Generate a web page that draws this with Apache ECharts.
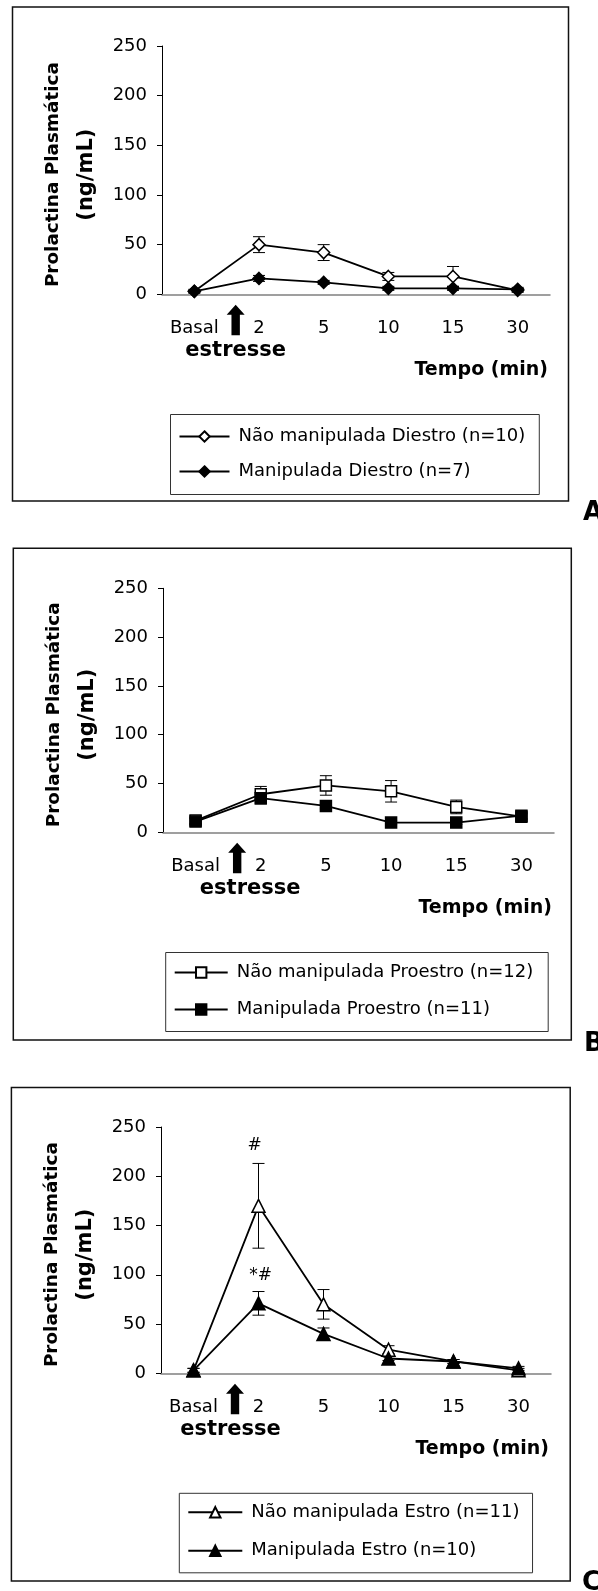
<!DOCTYPE html>
<html>
<head>
<meta charset="utf-8">
<title>Prolactina plasmática</title>
<script src="https://cdn.jsdelivr.net/npm/echarts@6/dist/echarts.min.js"></script>
<style>
  html, body { margin: 0; padding: 0; background: #fff; }
  #chart { width: 598px; height: 1591px; }
</style>
</head>
<body>
<div id="chart"></div>
<script>
// Tempo após o estresse (min)
const categories = ['Basal', '2', '5', '10', '15', '30'];

// A – Diestro (média e EPM, ng/mL)
const diestroNaoMean = [3, 50, 42, 18, 18, 4];
const diestroNaoSem  = [2, 8, 8, 4, 10, 2];
const diestroManMean = [3, 16, 12, 6, 6, 5];
const diestroManSem  = [1, 3, 2, 2, 2, 2];

// B – Proestro
const proestroNaoMean = [12, 39, 48, 42, 26, 16];
const proestroNaoSem  = [3, 8, 10, 11, 7, 3];
const proestroManMean = [11, 35, 27, 10, 10, 17];
const proestroManSem  = [3, 6, 3, 2, 2, 3];

// C – Estro
const estroNaoMean = [3, 170, 70, 24, 12, 3];
const estroNaoSem  = [2, 43, 15, 4, 2, 2];
const estroManMean = [3, 71, 40, 15, 12, 5];
const estroManSem  = [2, 12, 6, 2, 2, 2];

// Marcas de significância sobre os pontos
const estroNaoMarks = ['', '#', '', '', '', ''];
const estroManMarks = ['', '*#', '', '', '', ''];

// Eixo Y
const yMin = 0, yMax = 250, yStep = 50;

const FONT = '"DejaVu Sans", sans-serif';

const panels = [
  {
    letter: 'A',
    grid: { left: 162, top: 46, width: 388, height: 248.3 },
    box: { x: 12.5, y: 7, width: 556, height: 494 },
    letterPos: [583, 500],
    estresseDx: 9,
    legend: { left: 170.5, top: 414.5, itemWidth: 50, itemGap: 15, padding: [12, 14, 13, 8] },
    series: [
      { name: 'Não manipulada Diestro (n=10)', mean: diestroNaoMean, sem: diestroNaoSem, symbol: 'diamond', size: 12, open: true },
      { name: 'Manipulada Diestro (n=7)', mean: diestroManMean, sem: diestroManSem, symbol: 'diamond', size: 12, open: false }
    ]
  },
  {
    letter: 'B',
    grid: { left: 163, top: 588.3, width: 391, height: 244 },
    box: { x: 13.3, y: 548.3, width: 558, height: 491.7 },
    letterPos: [584, 1031],
    estresseDx: 22,
    legend: { left: 165.7, top: 952.5, itemWidth: 53, itemGap: 17, padding: [10, 15, 12, 8] },
    series: [
      { name: 'Não manipulada Proestro (n=12)', mean: proestroNaoMean, sem: proestroNaoSem, symbol: 'rect', size: 11, open: true },
      { name: 'Manipulada Proestro (n=11)', mean: proestroManMean, sem: proestroManSem, symbol: 'rect', size: 11, open: false }
    ]
  },
  {
    letter: 'C',
    grid: { left: 161, top: 1127, width: 390, height: 246.3 },
    box: { x: 11.4, y: 1087.4, width: 558.8, height: 493.7 },
    letterPos: [582, 1570],
    estresseDx: 4.5,
    legend: { left: 179.3, top: 1493.3, itemWidth: 54, itemGap: 18.5, padding: [9, 13, 12, 8] },
    series: [
      { name: 'Não manipulada Estro (n=11)', mean: estroNaoMean, sem: estroNaoSem, symbol: 'triangle', size: 13, open: true, marks: estroNaoMarks, markDist: 44, markDx: -4 },
      { name: 'Manipulada Estro (n=10)', mean: estroManMean, sem: estroManSem, symbol: 'triangle', size: 13, open: false, marks: estroManMarks, markDist: 12, markDx: 2 }
    ]
  }
];

// Barras de erro (média ± EPM) com traços horizontais nas pontas
function errorBars(k, mean, sem) {
  return {
    type: 'custom',
    xAxisIndex: k,
    yAxisIndex: k,
    silent: true,
    z: 1,
    encode: { x: 0, y: 1 },
    data: mean.map((m, i) => [i, m, sem[i]]),
    renderItem: function (params, api) {
      const i = api.value(0), m = api.value(1), s = api.value(2);
      const hi = api.coord([i, m + s]);
      const lo = api.coord([i, Math.max(0, m - s)]);
      const hw = 6;
      const st = { stroke: '#000', lineWidth: 1 };
      return {
        type: 'group',
        children: [
          { type: 'line', shape: { x1: hi[0], y1: hi[1], x2: lo[0], y2: lo[1] }, style: st },
          { type: 'line', shape: { x1: hi[0] - hw, y1: hi[1], x2: hi[0] + hw, y2: hi[1] }, style: st },
          { type: 'line', shape: { x1: lo[0] - hw, y1: lo[1], x2: lo[0] + hw, y2: lo[1] }, style: st }
        ]
      };
    }
  };
}

function lineSeries(k, s) {
  const data = s.mean.map((v, i) => {
    if (s.marks && s.marks[i]) {
      return {
        value: v,
        label: {
          show: true, formatter: s.marks[i], position: 'top',
          distance: s.markDist, offset: [s.markDx, 0],
          color: '#000', fontSize: 17, fontFamily: FONT
        }
      };
    }
    return v;
  });
  return {
    type: 'line',
    name: s.name,
    xAxisIndex: k,
    yAxisIndex: k,
    data: data,
    symbol: s.symbol,
    symbolSize: s.size,
    showAllSymbol: true,
    z: s.open ? 3 : 4,
    lineStyle: { color: '#000', width: 1.8 },
    itemStyle: { color: s.open ? '#fff' : '#000', borderColor: '#000', borderWidth: 1.5, opacity: 1 },
    emphasis: { disabled: true }
  };
}

const option = {
  animation: false,
  backgroundColor: '#fff',
  textStyle: { fontFamily: FONT, color: '#000' },
  grid: panels.map(p => Object.assign({ containLabel: false }, p.grid)),
  xAxis: panels.map((p, k) => ({
    type: 'category',
    gridIndex: k,
    data: categories,
    boundaryGap: true,
    axisLine: { lineStyle: { color: '#808080', width: 1.5 } },
    axisTick: { show: false },
    axisLabel: { color: '#000', fontSize: 18, fontFamily: FONT, margin: 25, interval: 0 },
    splitLine: { show: false }
  })),
  yAxis: panels.map((p, k) => ({
    type: 'value',
    gridIndex: k,
    min: yMin,
    max: yMax,
    interval: yStep,
    axisLine: { show: true, lineStyle: { color: '#000', width: 1 } },
    axisTick: { show: true, length: 5, lineStyle: { color: '#000', width: 1 } },
    axisLabel: { color: '#000', fontSize: 18, fontFamily: FONT, margin: 15 },
    splitLine: { show: false },
    name: '{a|Prolactina Plasmática}\n{b|(ng/mL)}',
    nameLocation: 'middle',
    nameRotate: 90,
    nameGap: 58,
    nameTextStyle: {
      color: '#000', fontFamily: FONT, fontWeight: 'bold',
      padding: [0, 9, 0, 0],
      rich: {
        a: { fontSize: 18.4, fontWeight: 'bold', fontFamily: FONT, color: '#000', lineHeight: 34 },
        b: { fontSize: 21, fontWeight: 'bold', fontFamily: FONT, color: '#000', lineHeight: 34 }
      }
    }
  })),
  legend: panels.map(p => ({
    orient: 'vertical',
    left: p.legend.left,
    top: p.legend.top,
    itemWidth: p.legend.itemWidth,
    itemHeight: 13,
    itemGap: p.legend.itemGap,
    padding: p.legend.padding,
    borderColor: '#333',
    borderWidth: 1,
    selectedMode: false,
    data: p.series.map(s => s.name),
    textStyle: { color: '#000', fontSize: 18, fontFamily: FONT, lineHeight: 20, padding: [0, 0, 0, 4] }
  })),
  series: []
};

panels.forEach((p, k) => {
  p.series.forEach(s => option.series.push(errorBars(k, s.mean, s.sem)));
  p.series.forEach(s => option.series.push(lineSeries(k, s)));
});

const chart = echarts.init(document.getElementById('chart'), null, { renderer: 'canvas' });
chart.setOption(option);

// Molduras, letras dos painéis, seta do estresse e títulos do eixo X
const graphics = [];
panels.forEach((p, k) => {
  graphics.push({
    type: 'rect', z: -10,
    shape: p.box,
    style: { fill: 'none', stroke: '#111', lineWidth: 1.5 }
  });
  graphics.push({
    type: 'text',
    x: p.letterPos[0], y: p.letterPos[1],
    style: { text: p.letter, font: 'bold 26px ' + FONT, fill: '#000', align: 'left', verticalAlign: 'top' }
  });
  const x0 = chart.convertToPixel({ xAxisIndex: k }, 0);
  const x1 = chart.convertToPixel({ xAxisIndex: k }, 1);
  const x5 = chart.convertToPixel({ xAxisIndex: k }, 5);
  const y0 = chart.convertToPixel({ yAxisIndex: k }, 0);
  const band = x1 - x0;
  const mid = (x0 + x1) / 2;
  const ax = mid + 9;          // seta logo à direita de "Basal"
  const t = y0 + 10.5;
  graphics.push({
    type: 'polygon',
    shape: { points: [
      [ax, t], [ax + 9, t + 10], [ax + 4.2, t + 10], [ax + 4.2, t + 30.5],
      [ax - 4.2, t + 30.5], [ax - 4.2, t + 10], [ax - 9, t + 10]
    ] },
    style: { fill: '#000' }
  });
  graphics.push({
    type: 'text',
    x: mid + p.estresseDx, y: y0 + 56,
    style: { text: 'estresse', font: 'bold 21px ' + FONT, fill: '#000', align: 'center', verticalAlign: 'middle' }
  });
  graphics.push({
    type: 'text',
    x: x5 + band / 2 - 2, y: y0 + 75.5,
    style: { text: 'Tempo (min)', font: 'bold 19px ' + FONT, fill: '#000', align: 'right', verticalAlign: 'middle' }
  });
});
chart.setOption({ graphic: graphics });
</script>
</body>
</html>
